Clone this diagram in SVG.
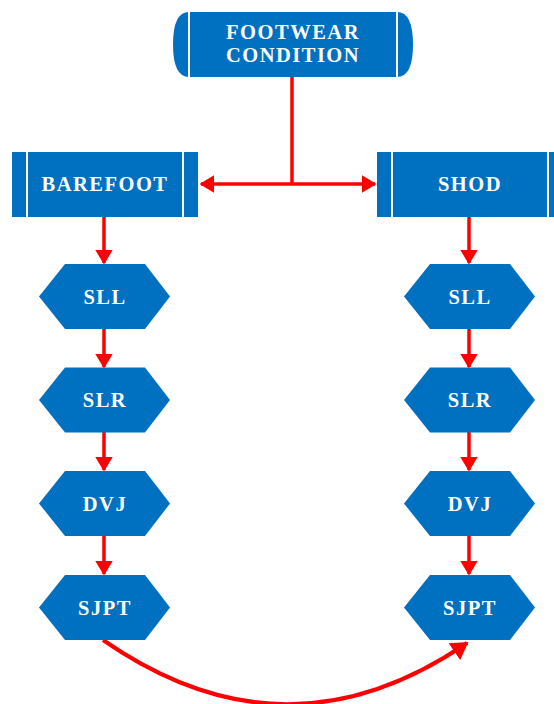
<svg xmlns="http://www.w3.org/2000/svg" width="554" height="704" viewBox="0 0 554 704">
<style>
.box{fill:#0070C0}
.sep{stroke:#fff;stroke-width:2;fill:none}
.t{font-family:"Liberation Serif","Times New Roman",serif;font-weight:bold;fill:#fff;text-anchor:middle;font-size:20.5px;letter-spacing:1.5px}
.c{stroke:#FF0000;stroke-width:3.5;fill:none}
</style>
<defs>
<marker id="ah" viewBox="0 0 10 12" refX="9" refY="6" markerWidth="4.3" markerHeight="5.1" markerUnits="strokeWidth" orient="auto">
<path d="M0,0 L10,6 L0,12 Z" fill="#FF0000"/>
</marker>
<polygon id="hex" points="-65,0 -39,-32.5 41,-32.5 66,0 41,32.5 -39,32.5"/>
</defs>
<g id="connectors">
<path class="c" d="M292,77 V184"/>
<path class="c" d="M292,184 H201" marker-end="url(#ah)"/>
<path class="c" d="M292,184 H375" marker-end="url(#ah)"/>
<path class="c" d="M104,217 V263" marker-end="url(#ah)"/>
<path class="c" d="M104,329 V367" marker-end="url(#ah)"/>
<path class="c" d="M104,432 V470" marker-end="url(#ah)"/>
<path class="c" d="M104,536 V574" marker-end="url(#ah)"/>
<path class="c" d="M469,217 V263" marker-end="url(#ah)"/>
<path class="c" d="M469,329 V367" marker-end="url(#ah)"/>
<path class="c" d="M469,432 V470" marker-end="url(#ah)"/>
<path class="c" d="M469,536 V574" marker-end="url(#ah)"/>
<path class="c" style="stroke-width:4" d="M103,640 Q286,767 467,643" marker-end="url(#ah)"/>
</g>
<g id="footwear">
<path class="box" d="M189,12 H397 Q413,12 413,44.5 Q413,77 397,77 H189 Q173,77 173,44.5 Q173,12 189,12 Z"/>
<path class="sep" d="M189,12 V77 M397,12 V77"/>
<text class="t" x="293" y="39">FOOTWEAR</text>
<text class="t" x="293" y="62">CONDITION</text>
</g>
<g id="barefoot">
<rect class="box" x="12" y="152" width="186" height="65"/>
<path class="sep" d="M27,152 V217 M183,152 V217"/>
<text class="t" x="105" y="191">BAREFOOT</text>
</g>
<g id="shod">
<rect class="box" x="377" y="152" width="186" height="65"/>
<path class="sep" d="M392,152 V217 M548,152 V217"/>
<text class="t" x="470" y="191">SHOD</text>
</g>
<g id="b-sll"><use href="#hex" class="box" x="104" y="296.5"/><text class="t" x="105" y="303.5">SLL</text></g>
<g id="b-slr"><use href="#hex" class="box" x="104" y="400"/><text class="t" x="105" y="407">SLR</text></g>
<g id="b-dvj"><use href="#hex" class="box" x="104" y="503.5"/><text class="t" x="105" y="510.5">DVJ</text></g>
<g id="b-sjpt"><use href="#hex" class="box" x="104" y="607.5"/><text class="t" x="105" y="614.5">SJPT</text></g>
<g id="s-sll"><use href="#hex" class="box" x="469" y="296.5"/><text class="t" x="470" y="303.5">SLL</text></g>
<g id="s-slr"><use href="#hex" class="box" x="469" y="400"/><text class="t" x="470" y="407">SLR</text></g>
<g id="s-dvj"><use href="#hex" class="box" x="469" y="503.5"/><text class="t" x="470" y="510.5">DVJ</text></g>
<g id="s-sjpt"><use href="#hex" class="box" x="469" y="607.5"/><text class="t" x="470" y="614.5">SJPT</text></g>
</svg>
